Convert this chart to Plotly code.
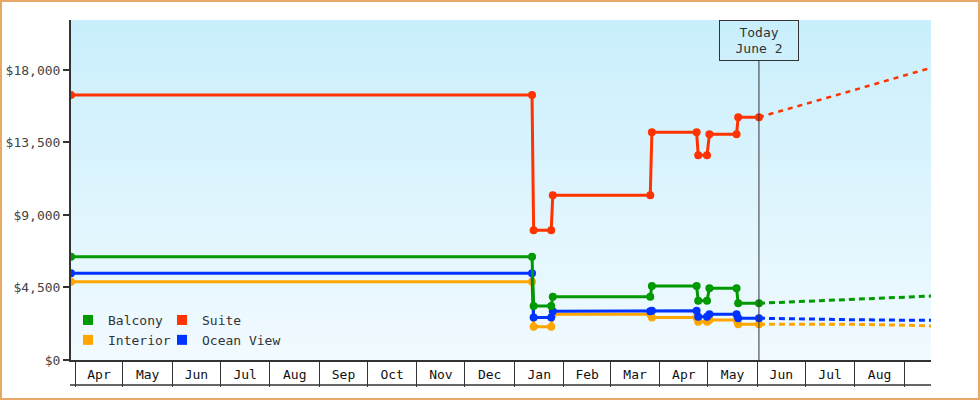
import plotly.graph_objects as go

FONT = "DejaVu Sans Mono"

# ---- data ----
X_START = "2023-03-29 12:00"
X_END = "2024-09-17 16:00"
TODAY = "2024-06-02"

DATES = ["2023-03-29 12:00", "2024-01-12", "2024-01-13", "2024-01-24", "2024-01-25",
         "2024-03-26", "2024-03-27", "2024-04-24", "2024-04-25", "2024-04-30 12:00",
         "2024-05-02", "2024-05-19", "2024-05-20", "2024-06-02"]

INTERIOR = [4860, 4860, 2070, 2070, 2840, 2840, 2640, 2640, 2380, 2380, 2480, 2480, 2220, 2220]
OCEAN_VIEW = [5380, 5380, 2630, 2630, 3020, 3020, 3050, 3050, 2690, 2690, 2840, 2840, 2590, 2590]
BALCONY = [6400, 6400, 3350, 3350, 3930, 3930, 4590, 4590, 3680, 3680, 4450, 4450, 3520, 3520]
SUITE = [16450, 16450, 8050, 8050, 10220, 10220, 14130, 14130, 12700, 12700, 14010, 14010, 15070, 15070]

FORECAST_DATES = ["2024-06-02", "2024-07-01", "2024-08-01", "2024-09-01", "2024-09-18"]
INTERIOR_FC = [2220, 2215, 2215, 2160, 2110]
OCEAN_VIEW_FC = [2590, 2530, 2500, 2470, 2465]
BALCONY_FC = [3520, 3640, 3770, 3930, 3970]
SUITE_FC = [15070, 15870, 16765, 17660, 18140]

Y_TICKS = [0, 4500, 9000, 13500, 18000]
Y_LABELS = ["$0", "$4,500", "$9,000", "$13,500", "$18,000"]

COLORS = {"Balcony": "#009900", "Suite": "#ff3300", "Interior": "#ffa500", "Ocean View": "#0033ff"}

fig = go.Figure()

series = [("Interior", INTERIOR, INTERIOR_FC), ("Ocean View", OCEAN_VIEW, OCEAN_VIEW_FC),
          ("Balcony", BALCONY, BALCONY_FC), ("Suite", SUITE, SUITE_FC)]

for name, vals, fc in series:
    red = name == "Suite"
    fig.add_trace(go.Scatter(x=FORECAST_DATES, y=fc, mode="lines", showlegend=False,
                             line=dict(color=COLORS[name], width=2.5 if red else 3,
                                       dash="5px,5px" if red else "6px,4px"),
                             hoverinfo="skip"))
for name, vals, fc in series:
    fig.add_trace(go.Scatter(x=DATES, y=vals, mode="lines+markers", name=name, showlegend=False,
                             line=dict(color=COLORS[name], width=3),
                             marker=dict(color=COLORS[name], size=8)))

# legend-only entries (two columns)
for name, leg in [("Balcony", "legend"), ("Interior", "legend"), ("Suite", "legend2"), ("Ocean View", "legend2")]:
    fig.add_trace(go.Scatter(x=[None], y=[None], mode="markers", name=name, legend=leg,
                             marker=dict(symbol="square", size=10, color=COLORS[name])))

# plot area dimensions (px) for paper conversions
L, R, T, B, W, H = 71, 49, 20, 40, 980, 400
PW, PH = W - L - R, H - T - B

shapes = []
n = 68
top_c = (201, 239, 252)
bot_c = (241, 250, 255)
for i in range(n):
    t = i / (n - 1)
    c = tuple(round(bot_c[k] + (top_c[k] - bot_c[k]) * t) for k in range(3))
    shapes.append(dict(type="rect", xref="paper", yref="paper", x0=0, x1=1,
                       y0=i / n, y1=min(1, (i + 1.3) / n),
                       fillcolor="rgb(%d,%d,%d)" % c, line=dict(width=0), layer="below"))

# bottom line of the month row
shapes.append(dict(type="line", xref="paper", yref="paper", x0=(70 - L) / PW, x1=1,
                   y0=-25 / PH, y1=-25 / PH, line=dict(color="#333", width=1.5)))
# today line
shapes.append(dict(type="line", xref="x", yref="paper", x0=TODAY, x1=TODAY,
                   y0=0, y1=(PH - 41) / PH, line=dict(color="#333", width=1)))
# outer border
shapes.append(dict(type="rect", xref="paper", yref="paper",
                   x0=(1 - L) / PW, x1=(W - 1 - L) / PW,
                   y0=(PH + T - (H - 1)) / PH, y1=(PH + T - 1) / PH,
                   line=dict(color="#e8a866", width=2), fillcolor="rgba(0,0,0,0)"))

fig.update_layout(
    width=W, height=H,
    margin=dict(l=L, r=R, t=T, b=B, pad=0, autoexpand=False),
    paper_bgcolor="white", plot_bgcolor="white",
    font=dict(family=FONT, size=13, color="#333"),
    shapes=shapes,
    xaxis=dict(type="date", range=[X_START, X_END], tickmode="linear", tick0="2023-04-01",
               dtick="M1", tickformat="%b", ticklabelmode="period", ticks="outside",
               ticklen=25, tickwidth=1, tickcolor="#333", showline=True, linecolor="#333",
               linewidth=2, showgrid=False, zeroline=False, ticklabelstandoff=-24,
               ticklabeloverflow="hide past domain", automargin=False,
               tickfont=dict(family=FONT, size=13, color="#111")),
    yaxis=dict(range=[0, 21100], tickmode="array", tickvals=Y_TICKS, ticktext=Y_LABELS,
               ticks="outside", ticklen=6, tickwidth=2, tickcolor="#333", showline=True,
               linecolor="#333", linewidth=2, showgrid=False, zeroline=False, automargin=False,
               tickfont=dict(family=FONT, size=13, color="#444")),
    legend=dict(x=(68 - L) / PW, y=(PH + T - 305) / PH, xanchor="left", yanchor="top",
                bgcolor="rgba(0,0,0,0)", font=dict(family=FONT, size=13, color="#333"),
                itemwidth=30),
    legend2=dict(x=(162 - L) / PW, y=(PH + T - 305) / PH, xanchor="left", yanchor="top",
                 bgcolor="rgba(0,0,0,0)", font=dict(family=FONT, size=13, color="#333"),
                 itemwidth=30),
    annotations=[dict(x=TODAY, xref="x", y=1, yref="paper", xanchor="center", yanchor="top",
                      text="Today<br>June 2", showarrow=False, width=78, height=39,
                      borderpad=0, bordercolor="#333", borderwidth=1,
                      font=dict(family=FONT, size=13, color="#333"))],
    hovermode="closest",
)

fig.write_html("out.html", config={"displayModeBar": False},
               post_script="document.body.style.margin='0';")
